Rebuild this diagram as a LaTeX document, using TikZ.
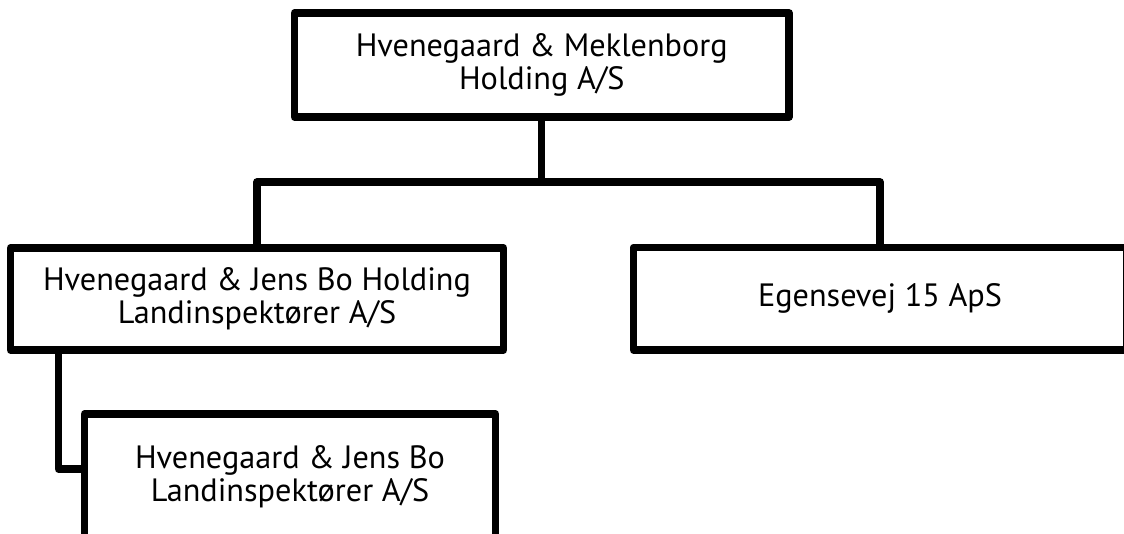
\documentclass[tikz,border=0pt]{standalone}
\usepackage{fontspec}
\setmainfont{PT Sans}
\begin{document}
\begin{tikzpicture}[x=0.75pt,y=-0.75pt,
  box/.style={draw=black,line width=5.6pt,line join=round,rectangle,inner sep=0pt,outer sep=0pt,align=center,
    font=\fontsize{24.2}{24.4}\selectfont},
  conn/.style={draw=black,line width=5.6pt,line join=round}]
\clip (0,0) rectangle (1124,534);
\useasboundingbox (0,0) rectangle (1124,534);
\node[box,minimum width=494.5*0.75pt,minimum height=104*0.75pt] (top) at (541.75,65) {Hvenegaard \& Meklenborg\\Holding A/S};
\node[box,minimum width=493*0.75pt,minimum height=102*0.75pt] (left) at (257,299) {Hvenegaard \& Jens Bo Holding\\Landinspektører A/S};
\node[box,minimum width=493*0.75pt,minimum height=102.5*0.75pt] (right) at (880,298.75) {Egensevej 15 ApS};
\node[box,minimum width=411*0.75pt,minimum height=126*0.75pt] (bottom) at (290,477) {Hvenegaard \& Jens Bo\\Landinspektører A/S};
\draw[conn] (top.south) -- ++(0,65) coordinate (mid);
\draw[conn] (left.north) |- (mid) -| (right.north);
\draw[conn] ([xshift=36pt]left.south west) |- ([yshift=6pt]bottom.west);
\end{tikzpicture}
\end{document}
